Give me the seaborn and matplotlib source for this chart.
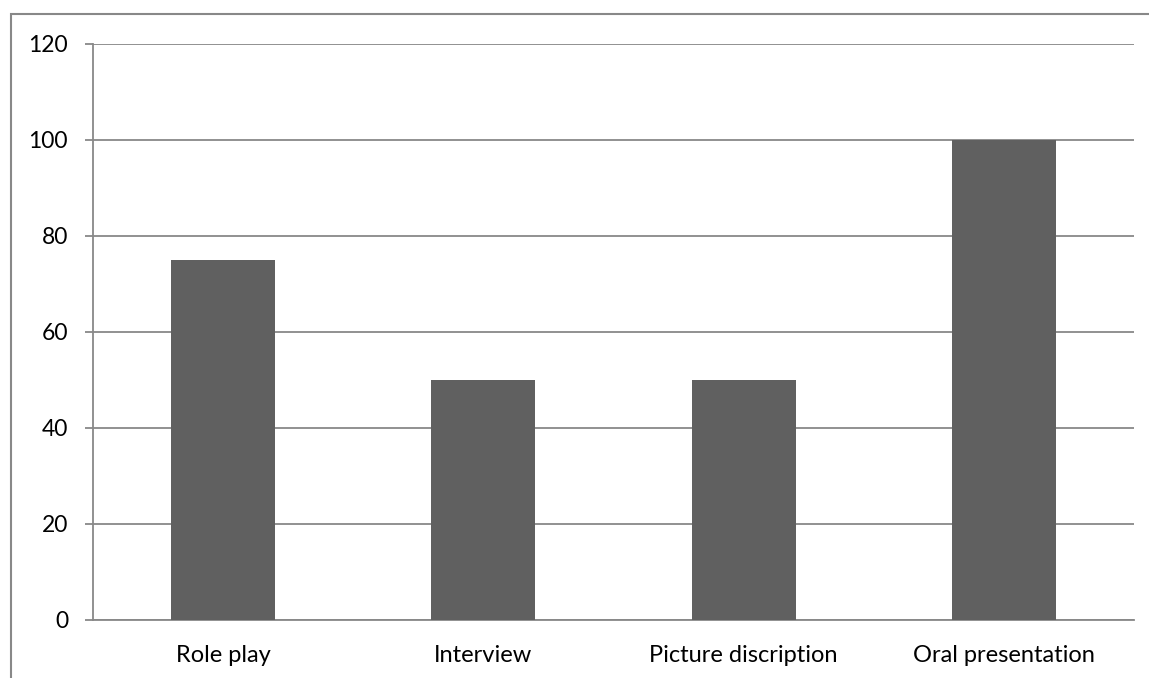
import matplotlib
matplotlib.use('Agg')
import matplotlib.pyplot as plt
import seaborn as sns
import pandas as pd
from matplotlib.patches import Rectangle

categories = ['Role play', 'Interview', 'Picture discription', 'Oral presentation']
values = [75, 50, 50, 100]
y_ticks = [0, 20, 40, 60, 80, 100, 120]

sns.set_style('white')
plt.rcParams['font.family'] = ['Lato', 'DejaVu Sans']

W, H = 1149, 678
fig = plt.figure(figsize=(W / 100, H / 100), dpi=100)
ax = fig.add_axes([93 / W, (H - 620) / H, (1134 - 93) / W, (620 - 44) / H])

df = pd.DataFrame({'task': categories, 'score': values})
sns.barplot(data=df, x='task', y='score', color='#606060', width=0.4,
            saturation=1, linewidth=0, ax=ax, zorder=3)

grey = '#888888'
ax.set_xlim(-0.5, len(categories) - 0.5)
ax.set_ylim(0, 120)
ax.set_yticks(y_ticks)
ax.set_xlabel('')
ax.set_ylabel('')
ax.yaxis.grid(True, color=grey, linewidth=1.3, zorder=0)
ax.set_axisbelow(True)

for side in ['top', 'right']:
    ax.spines[side].set_visible(False)
for side in ['left', 'bottom']:
    ax.spines[side].set_color(grey)
    ax.spines[side].set_linewidth(1.3)

# boundaries between categories carry the tick marks
ax.set_xticks([i - 0.5 for i in range(len(categories) + 1)], minor=True)
ax.tick_params(axis='x', which='minor', length=6, width=1.3, color=grey, direction='out')
ax.tick_params(axis='x', which='major', length=0, pad=18, labelsize=17, labelcolor='black')
ax.tick_params(axis='y', which='major', left=True, length=6, width=1.3, color=grey,
               pad=12, labelsize=16.5, labelcolor='black')

# outer chart border (cropped on the right and bottom)
fig.patches.append(Rectangle((10.5 / W, -0.1), 1.2, 1.1 - 14.5 / H, transform=fig.transFigure,
                             fill=False, edgecolor=grey, linewidth=1.5))

fig.savefig('out.png', dpi=100)
